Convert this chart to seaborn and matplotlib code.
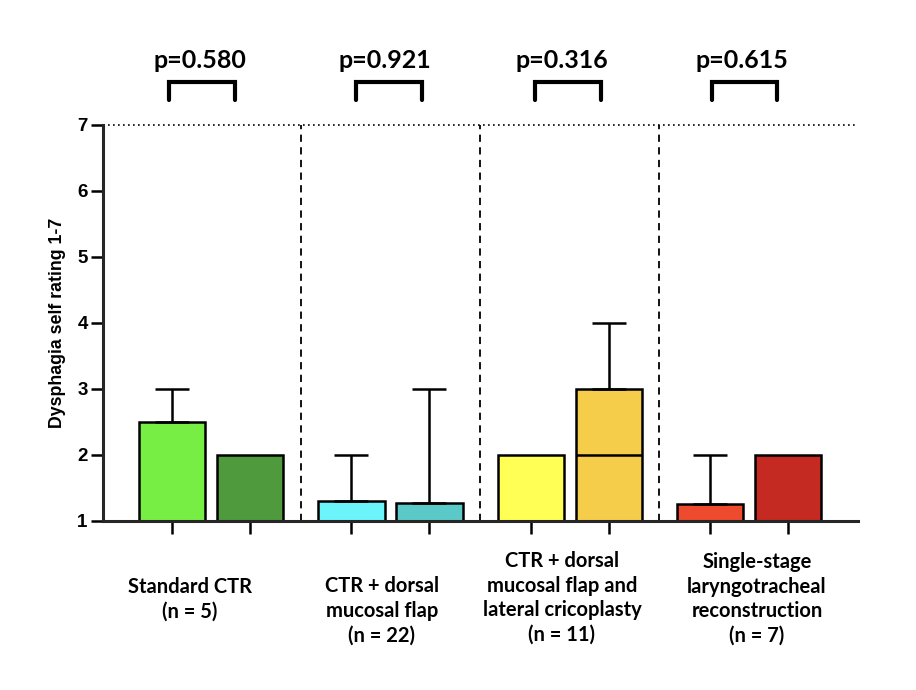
import matplotlib
matplotlib.use("Agg")
import matplotlib.pyplot as plt
import pandas as pd
import seaborn as sns

# bar positions (two bars per group, wider gaps between groups)
positions = [0, 1, 2.3, 3.3, 4.6, 5.6, 6.9, 7.9]
values = [2.5, 2.0, 1.3, 1.27, 2.0, 3.0, 1.25, 2.0]
err_top = [3.0, None, 2.0, 3.0, None, 4.0, 2.0, None]
inner_line = [None, None, None, None, None, 2.0, None, None]
bar_colors = ["#77EE44", "#4E9A3C", "#6CF4FB", "#5CC9C9",
              "#FFFF55", "#F5CD4B", "#EE4B2E", "#C42A22"]

group_labels = ["Standard CTR\n(n = 5)",
                "CTR + dorsal\nmucosal flap\n(n = 22)",
                "CTR + dorsal\nmucosal flap and\nlateral cricoplasty\n(n = 11)",
                "Single-stage\nlaryngotracheal\nreconstruction\n(n = 7)"]
p_values = ["p=0.580", "p=0.921", "p=0.316", "p=0.615"]

df = pd.DataFrame({"pos": positions, "value": values,
                   "bar": [str(i) for i in range(len(positions))]})

sns.set_style("ticks")
plt.rcParams.update({"text.color": "black", "axes.labelcolor": "black",
                     "xtick.color": "black", "ytick.color": "black"})
fig = plt.figure(figsize=(9.16, 6.9), dpi=100)
ax = fig.add_axes([0.1124, 0.245, 0.8242, 0.574])

sns.barplot(data=df, x="pos", y="value", hue="bar",
            palette=dict(zip(df["bar"], bar_colors)), native_scale=True,
            width=0.85, edgecolor="black", linewidth=1.8, legend=False,
            saturation=1, ax=ax, errorbar=None)

# bars start at the axis floor (1)
for patch, v in zip(ax.patches, values):
    patch.set_y(1)
    patch.set_height(v - 1)

for x, v, e in zip(positions, values, err_top):
    if e is not None:
        ax.errorbar([x], [v], yerr=[[0], [e - v]], fmt="none", ecolor="black",
                    elinewidth=1.8, capsize=12, capthick=1.8, zorder=1)
for x, m in zip(positions, inner_line):
    if m is not None:
        ax.hlines(m, x - 0.425, x + 0.425, color="black", lw=1.8, zorder=3)

ax.set_ylim(1, 7)
ax.set_xlim(-0.885, 8.795)
ax.set_yticks(range(1, 8))
ax.set_xticks(positions)
ax.set_xticklabels([])
ax.set_xlabel("")
ax.set_ylabel("Dysphagia self rating 1-7", fontsize=12.8, fontweight="bold",
              family="Liberation Sans", labelpad=8)
for lab in ax.get_yticklabels():
    lab.set_fontweight("bold")
    lab.set_family("Liberation Sans")
    lab.set_fontsize(13.5)
ax.tick_params(axis="both", direction="out", length=9, width=1.8, color="black",
               pad=2)
for s in ["top", "right"]:
    ax.spines[s].set_visible(False)
for s in ["left", "bottom"]:
    ax.spines[s].set_linewidth(2.2)

ax.axhline(7, color="black", ls=(0, (1, 2)), lw=1.2, clip_on=False)
for i in range(3):
    xm = (positions[2 * i + 1] + positions[2 * i + 2]) / 2
    ax.axvline(xm, color="black", ls=(0, (4, 3)), lw=1.3)

# group labels below axis
label_x = [0.23, 2.69, 5.0, 7.5]
label_y = [-0.197, -0.227, -0.194, -0.197]
for x, y, t in zip(label_x, label_y, group_labels):
    ax.text(x, y, t, transform=ax.get_xaxis_transform(), ha="center",
            va="center", fontsize=14.5, fontweight="bold", family="Lato",
            linespacing=1.28)

# p-value brackets
bracket_x = [0.385, 2.78, 5.08, 7.34]
ptext_x = [0.36, 2.73, 5.0, 7.31]
for xc, xt, p in zip(bracket_x, ptext_x, p_values):
    x0, x1 = xc - 0.42, xc + 0.42
    ax.plot([x0, x0, x1, x1], [1.063, 1.1086, 1.1086, 1.063],
            transform=ax.get_xaxis_transform(), color="black", lw=3,
            clip_on=False, solid_joinstyle="miter")
    ax.text(xt, 1.144, p, transform=ax.get_xaxis_transform(), ha="center",
            va="baseline", fontsize=18, fontweight="bold", family="Lato")

fig.savefig("out.png", dpi=100)
